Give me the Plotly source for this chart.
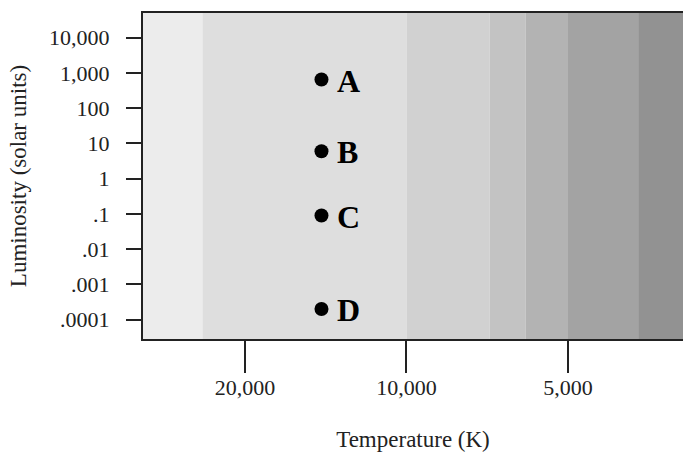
import math
import plotly.graph_objects as go

# ---- data ----
star_labels = ["A", "B", "C", "D"]
star_temp = [14400, 14400, 14400, 14400]
star_lum = [650, 6, 0.09, 0.0002]

band_edges = [100000, 24000, 10000, 7000, 6000, 5000, 3700, 1000]
band_colors = ["#ececec", "#dedede", "#d1d1d1", "#c3c3c3", "#b3b3b3", "#a3a3a3", "#929292"]

y_tickvals = [1e-4, 1e-3, 1e-2, 1e-1, 1, 10, 100, 1000, 10000]
y_ticktext = [".0001", ".001", ".01", ".1", "1", "10", "100", "1,000", "10,000"]
x_tickvals = [20000, 10000, 5000]
x_ticktext = ["20,000", "10,000", "5,000"]

x_range_log = [4.491, 3.4846]
y_range_log = [-4.55, 4.70]

FONT = "Liberation Serif"
INK = "#222222"

fig = go.Figure()

lum_lo, lum_hi = 1e-7, 1e7
for i, col in enumerate(band_colors):
    t0, t1 = band_edges[i], band_edges[i + 1]
    fig.add_trace(go.Scatter(
        x=[t0, t1, t1, t0, t0], y=[lum_lo, lum_lo, lum_hi, lum_hi, lum_lo],
        mode="lines", fill="toself", fillcolor=col,
        line=dict(width=0, color=col), hoverinfo="skip", showlegend=False))

fig.add_trace(go.Scatter(
    x=star_temp, y=star_lum, mode="markers",
    marker=dict(size=14, color="black"), showlegend=False))

for lab, t, l in zip(star_labels, star_temp, star_lum):
    fig.add_annotation(x=math.log10(t), y=math.log10(l), text="<b>%s</b>" % lab,
                       showarrow=False, xanchor="left", yanchor="middle",
                       xshift=14, yshift=-1,
                       font=dict(family=FONT, size=32, color="black"))

fig.update_layout(
    width=683, height=452,
    margin=dict(l=143, r=0, t=13, b=113, pad=0),
    paper_bgcolor="white", plot_bgcolor="white",
    font=dict(family=FONT, size=22, color=INK),
    xaxis=dict(type="log", range=x_range_log, tickvals=x_tickvals, ticktext=x_ticktext,
               ticks="outside", ticklen=32, tickwidth=2, tickcolor=INK,
               showline=True, linecolor=INK, linewidth=2, mirror=True,
               showgrid=False, zeroline=False, ticklabelstandoff=-4,
               tickfont=dict(family=FONT, size=22, color=INK),
               title=dict(text="Temperature (K)\u00a0\u00a0", standoff=34,
                          font=dict(family=FONT, size=23, color=INK))),
    yaxis=dict(type="log", range=y_range_log, tickvals=y_tickvals, ticktext=y_ticktext,
               ticks="outside", ticklen=15, tickwidth=2, tickcolor=INK,
               showline=True, linecolor=INK, linewidth=2, mirror=False,
               showgrid=False, zeroline=False, ticklabelstandoff=12,
               tickfont=dict(family=FONT, size=22, color=INK),
               title=dict(text="Luminosity (solar units)", standoff=16,
                          font=dict(family=FONT, size=23, color=INK))),
)

fig.write_html("out.html")
